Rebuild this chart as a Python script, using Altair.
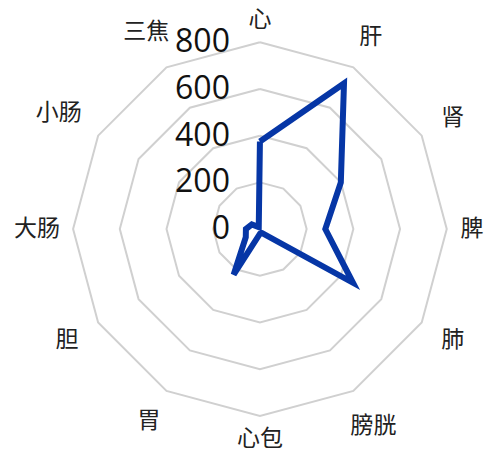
import altair as alt
import pandas as pd

# Organs around the radar, clockwise from the top
organs = ["心", "肝", "肾", "脾", "肺", "膀胱", "心包", "胃", "胆", "大肠", "小肠", "三焦"]
values = [375, 720, 400, 280, 460, 20, 20, 225, 70, 60, 40, 10]
ring_levels = [200, 400, 600, 800]
tick_labels = ["0", "200", "400", "600", "800"]
tick_values = [0, 200, 400, 600, 800]

n = len(organs)

# closed series polygon
series = pd.DataFrame({
    "organ": organs + [organs[0]],
    "idx": list(range(n)) + [n],
    "value": values + [values[0]],
})

# concentric 12-gon grid rings
rings = pd.DataFrame(
    [{"level": lv, "idx": i} for lv in ring_levels for i in range(n + 1)]
)

labels = pd.DataFrame({"organ": organs, "idx": list(range(n))})
ticks = pd.DataFrame({"text": tick_labels, "value": tick_values})

X = alt.Scale(domain=[-1113, 1028], nice=False, zero=False)
Y = alt.Scale(domain=[-959, 981], nice=False, zero=False)
angle = f"datum.idx * 2 * PI / {n}"

ring_layer = alt.Chart(rings).transform_calculate(
    px=f"datum.level * sin({angle})", py=f"datum.level * cos({angle})"
).mark_line(color="#d0d0d0", strokeWidth=2).encode(
    x=alt.X("px:Q", scale=X, axis=None),
    y=alt.Y("py:Q", scale=Y, axis=None),
    detail="level:N",
    order="idx:Q",
)

line_layer = alt.Chart(series).transform_calculate(
    px=f"datum.value * sin({angle})", py=f"datum.value * cos({angle})"
).mark_line(color="#0636a6", strokeWidth=6, strokeJoin="miter").encode(
    x=alt.X("px:Q", scale=X, axis=None),
    y=alt.Y("py:Q", scale=Y, axis=None),
    order="idx:Q",
)

# category labels sit just outside the outer ring, pushed out by their own box size
label_layer = alt.Chart(labels).transform_calculate(
    a=angle,
).transform_calculate(
    r="861 + 47 * length(datum.organ) * abs(sin(datum.a)) + 36 * abs(cos(datum.a))"
      " + 39 * abs(sin(2 * datum.a))",
).transform_calculate(
    px="datum.r * sin(datum.a)", py="datum.r * cos(datum.a)"
).mark_text(
    font="Noto Sans CJK SC", fontSize=23, color="#222222", align="center", baseline="middle"
).encode(
    x=alt.X("px:Q", scale=X, axis=None),
    y=alt.Y("py:Q", scale=Y, axis=None),
    text="organ:N",
)

tick_layer = alt.Chart(ticks).transform_calculate(px="0").mark_text(
    font="Open Sans", fontSize=32, color="#111111", align="right", baseline="middle", dx=-30
).encode(
    x=alt.X("px:Q", scale=X, axis=None),
    y=alt.Y("value:Q", scale=Y, axis=None),
    text="text:N",
)

chart = alt.layer(ring_layer, line_layer, tick_layer, label_layer).properties(
    width=500, height=453, padding=0, autosize=alt.AutoSizeParams(type="none"),
    background="white",
).configure_view(stroke=None)

chart.save("out.html", embed_options={"renderer": "svg", "actions": False})
